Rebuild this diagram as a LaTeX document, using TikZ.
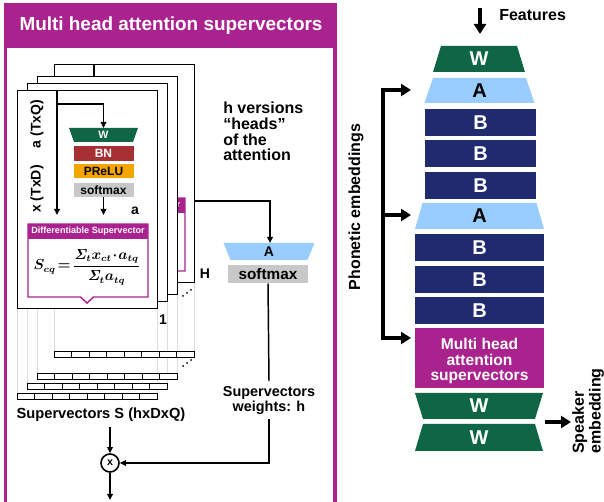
\documentclass[tikz,border=0pt]{standalone}
\usepackage[no-math]{fontspec}
\setmainfont{Liberation Sans}
\usetikzlibrary{arrows.meta}

\definecolor{mhpurple}{RGB}{170,34,142}
\definecolor{wgreen}{RGB}{14,102,68}
\definecolor{ablue}{RGB}{153,204,255}
\definecolor{bnavy}{RGB}{32,42,110}
\definecolor{bnred}{RGB}{166,48,52}
\definecolor{preluorange}{RGB}{245,165,0}
\definecolor{smgray}{RGB}{200,200,200}
\definecolor{guidegray}{RGB}{222,222,222}

% bold text at a given size / baseline skip
\newcommand\fs[2]{\fontsize{#1}{#2}\selectfont\bfseries}
\newsavebox\scqbox

\begin{document}
% supervector formula, typeset once
\sbox\scqbox{\fontsize{10.5}{12}\selectfont\boldmath$\displaystyle S_{cq}\mkern-3mu=\mkern-3mu\frac{\mathit{\Sigma}_t x_{ct}\mkern-3mu\cdot\mkern-3mu a_{tq}}{\mathit{\Sigma}_t a_{tq}}$}%
\begin{tikzpicture}[x=0.75pt, y=-0.75pt,
  pageframe/.style={draw=black, line width=0.6pt, fill=white},
  smallbox/.style={minimum width=45pt, minimum height=10.8pt, inner sep=0pt, font=\fs{9}{10}},
  thinarrow/.style={draw=black, line width=1.1pt, -{Triangle[length=4.5pt,width=4.2pt]}},
  thinline/.style={draw=black, line width=1.1pt},
  bigarrow/.style={draw=black, line width=2.8pt, line join=miter, -{Triangle[length=7.5pt,width=9pt]}},
  guide/.style={draw=guidegray, line width=0.5pt},
  barcell/.style={draw=black, line width=0.5pt, fill=white},
  txt/.style={font=\fs{12}{11.7}, inner sep=0pt},
  stackbox/.style={minimum height=20.25pt, inner sep=0pt, font=\fs{15}{15}, text=white, fill=bnavy},
  bigletter/.style={font=\fs{15}{15}, inner sep=0pt},
  sheetlabel/.style={font=\fs{10.5}{12}, inner sep=1pt},
]
\useasboundingbox (0,0) rectangle (604,502);
\fill[white] (0,0) rectangle (604,502);

% ---------- left panel: frame and title ----------
\fill[mhpurple] (4,3) rectangle (336.5,48);
\draw[mhpurple, line width=2.3pt] (5.5,506) -- (5.5,3);
\draw[mhpurple, line width=2.3pt] (335,3) -- (335,506);
\node[text=white, font=\fs{14.2}{16}] (title) at (171,26) {Multi head attention supervectors};

% ---------- guide lines and supervector bars ----------
\foreach \ql/\qb/\qt in {17/308/393, 27/301/383, 37/294/373, 54/282/351}{
  \draw[guide] (\ql,308) -- (\ql,\qt);
  \draw[guide] (\ql+140,\qb) -- (\ql+140,\qt);
  \draw[barcell] (\ql,\qt) rectangle ++(140,6);
  \foreach \i in {1,...,7}{ \draw[barcell] (\ql+\i*17.5,\qt) -- ++(0,6); }
}

% ---------- back head sheet (only its right edge shows) ----------
\begin{scope}[shift={(54,64)}]
  \draw[pageframe] (0,0) rectangle (140,218);
  \coordinate (bxtop) at (40,0);
  \coordinate (bxend) at (40,20);
  \coordinate (bsheetout) at (140,137);
  \draw[thinline] (bxtop) -- (bxend);
  \fill[mhpurple] (11,134) rectangle (131,149);
  \draw[mhpurple, line width=1.1pt, line join=miter] (11,134) -- (131,134) -- (131,207) -- (76.5,207) -- (70,213) -- (63.5,207) -- (11,207) -- cycle;
  \node[font=\fs{6.8}{7}, text=white, inner sep=0pt, anchor=east] (bdsh) at (126.5,141.5) {r};
\end{scope}
\draw[pageframe] (37,76) rectangle ++(140,218);
\draw[pageframe] (27,83) rectangle ++(140,218);

% ---------- front head sheet ----------
\begin{scope}[shift={(17,90)}]
  \draw[pageframe] (0,0) rectangle (140,218);
  \coordinate (fxtop) at (40,0);
  \coordinate (fxbr) at (40,14);
  \coordinate (fxend) at (40,125);
  \coordinate (fwtop) at (86.5,38);
  \coordinate (faend) at (86.5,125);
  \fill[wgreen] (52,38) -- (121,38) -- (116,52) -- (57,52) -- cycle;
  \node[font=\fs{8}{9}, text=white, inner sep=0pt] (fw) at (86.5,45) {W};
  \node[smallbox, fill=bnred, text=white] (fbn) at (86.5,63.5) {BN};
  \node[smallbox, fill=preluorange] (fprelu) at (86.5,81) {PReLU};
  \node[smallbox, fill=smgray] (fsm) at (86.5,100) {softmax};
  \draw[thinarrow] (fxtop) -- (fxend);
  \draw[thinarrow] (fxbr) -| (fwtop);
  \draw[thinarrow] (fsm.south) -- (faend);
  \node[sheetlabel] (falab) at (118,121) {a};
  \node[sheetlabel, rotate=90] (faqlab) at (20,34) {a (TxQ)};
  \node[sheetlabel, rotate=90] (fxdlab) at (20,99) {x (TxD)};
  \fill[mhpurple] (11,134) rectangle (131,149);
  \draw[mhpurple, line width=1.1pt, line join=miter] (11,134) -- (131,134) -- (131,207) -- (76.5,207) -- (70,213) -- (63.5,207) -- (11,207) -- cycle;
  \node[font=\fs{6.8}{7}, text=white, inner sep=0pt] (fdsh) at (71,141.5) {Differentiable Supervector};
  \node[inner sep=0pt] (fdsf) at (70,177) {\usebox\scqbox};
\end{scope}

\foreach \dx/\dy in {183/296, 187/293, 191/290, 183/366, 187/363, 191/360}
  \fill (\dx,\dy) circle (0.75pt);
\node[sheetlabel] (hlab) at (205,274) {H};
\node[sheetlabel] (onelab) at (163,320) {1};

\node[txt, anchor=north west, align=left] (heads) at (223,102)
  {h versions\\“heads”\\of the\\attention};

% ---------- head weighting ----------
\fill[ablue] (223.5,243) -- (314.5,243) -- (307.5,260) -- (230.5,260) -- cycle;
\node[font=\fs{10.5}{12}, inner sep=0pt] (ahead) at (269,251.5) {A};
\coordinate (atop) at (270,243);
\node[fill=smgray, minimum width=60pt, minimum height=13.5pt, inner sep=0pt, font=\fs{11.5}{12}] (smx) at (268,274) {softmax};
\draw[thinarrow] (bsheetout) -| (atop);

\node[align=center, font=\fs{10.8}{11.25}] (swl) at (269,400) {Supervectors\\weights: h};
\node[font=\fs{11}{12}] (svl) at (101,415) {Supervectors S (hxDxQ)};
\node[circle, draw, line width=1.2pt, minimum size=13.5pt, inner sep=0pt, font=\fs{8}{8}] (mult) at (110,463) {x};
\coordinate (outs) at (110,500);
\draw[thinline] (smx.south) -- (swl.north);
\draw[thinarrow] (swl.south) |- (mult.east);
\draw[thinarrow] (svl.south -| mult) -- (mult.north);
\draw[thinarrow] (mult.south) -- (outs);

% ---------- right column: network stack ----------
\coordinate (f0) at (480,8);
\coordinate (f1) at (480,34);
\draw[bigarrow] (f0) -- (f1);
\node[txt, anchor=west] (featlab) at (499,15) {Features};

\fill[wgreen] (441,46) -- (517,46) -- (525,72) -- (433,72) -- cycle;
\node[bigletter, text=white] (w0) at (479,59) {W};
\fill[ablue] (433,78) -- (526,78) -- (534.5,103) -- (424.5,103) -- cycle;
\node[bigletter] (a1) at (479.5,90.5) {A};
\node[stackbox, minimum width=83.25pt] (b1) at (480.5,122.5) {B};
\node[stackbox, minimum width=83.25pt] (b2) at (480.5,154) {B};
\node[stackbox, minimum width=83.25pt] (b3) at (480.5,185.5) {B};
\fill[ablue] (422.5,203) -- (536.5,203) -- (544,229) -- (415,229) -- cycle;
\node[bigletter] (a2) at (479.5,216) {A};
\node[stackbox, minimum width=96.75pt] (b4) at (479.5,247.5) {B};
\node[stackbox, minimum width=96.75pt] (b5) at (479.5,279.5) {B};
\node[stackbox, minimum width=96.75pt] (b6) at (479.5,310.5) {B};
\node[fill=mhpurple, minimum width=96.75pt, minimum height=45pt, inner sep=0pt] (mhas) at (479.5,358) {};
\node[text=white, align=center, font=\fs{11.7}{11.6}, inner sep=0pt] (mhtext) at (479.5,361) {Multi head\\attention\\supervectors};
\fill[wgreen] (415,393) -- (543,393) -- (535,419) -- (423,419) -- cycle;
\node[bigletter, text=white] (w1) at (479,406) {W};
\fill[wgreen] (423,424) -- (535,424) -- (543,451) -- (415,451) -- cycle;
\node[bigletter, text=white] (w2) at (479,437.5) {W};

% phonetic embedding taps
\coordinate (ph0) at (383,90);
\coordinate (ph1) at (383,215);
\coordinate (ph2) at (383,338);
\coordinate (tp0) at (411,90);
\coordinate (tp1) at (411,215);
\coordinate (tp2) at (411,338);
\draw[bigarrow] (ph2) -- (ph0) -- (tp0);
\draw[bigarrow] (ph0) -- (ph2) -- (tp2);
\draw[bigarrow] (ph1) -- (tp1);
\node[txt, rotate=90] (phl) at (356,207) {Phonetic embeddings};

% speaker embedding output
\coordinate (s0) at (545,422);
\coordinate (s1) at (571,422);
\draw[bigarrow] (s0) -- (s1);
\node[rotate=90, align=left, anchor=north west, inner sep=0pt, font=\fs{12}{12.6}] (spk) at (572,454)
  {Speaker\\embedding};
\end{tikzpicture}
\end{document}
